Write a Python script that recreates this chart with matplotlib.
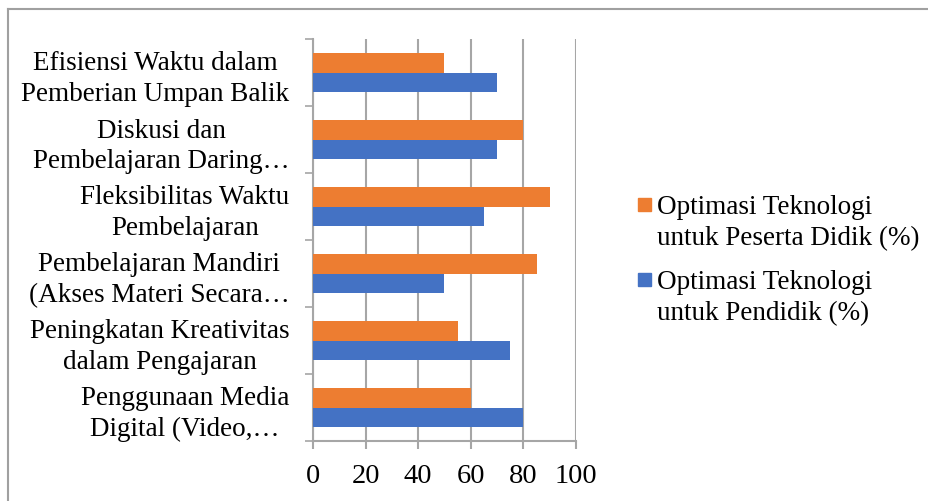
import matplotlib
matplotlib.use("Agg")
import matplotlib.pyplot as plt
from matplotlib.patches import Rectangle
import numpy as np

categories = [
    "Penggunaan Media\nDigital (Video,…",
    "Peningkatan Kreativitas\ndalam Pengajaran",
    "Pembelajaran Mandiri\n(Akses Materi Secara…",
    "Fleksibilitas Waktu\nPembelajaran",
    "Diskusi dan\nPembelajaran Daring…",
    "Efisiensi Waktu dalam\nPemberian Umpan Balik",
]
pendidik = [80, 75, 50, 65, 70, 70]
peserta = [60, 55, 85, 90, 80, 50]
series_names = [
    "Optimasi Teknologi\nuntuk Peserta Didik (%)",
    "Optimasi Teknologi\nuntuk Pendidik (%)",
]
xticks = [0, 20, 40, 60, 80, 100]

ORANGE = "#ED7D31"
BLUE = "#4472C4"
GRID = "#A6A6A6"
FS = 19.5
LS = 1.3

plt.rcParams["font.family"] = ["Liberation Serif", "DejaVu Serif"]
W, H = 929, 502
fig = plt.figure(figsize=(W / 100, H / 100), dpi=100)

def fx(px):
    return px / W

def fy(py):
    return 1 - py / H

ax = fig.add_axes([fx(313), fy(442), fx(576) - fx(313), fy(40) - fy(442)])

y = np.arange(len(categories))
h = 0.284
ax.barh(y + 0.142, peserta, height=h, color=ORANGE, zorder=3)
ax.barh(y - 0.142, pendidik, height=h, color=BLUE, zorder=3)

ax.set_xlim(0, 100)
ax.set_ylim(-0.5, len(categories) - 0.5)
ax.set_xticks(xticks)
ax.set_xticklabels([str(v) for v in xticks], fontsize=20.5)
ax.set_yticks(y)
ax.set_yticklabels(categories, fontsize=FS, ha="right", multialignment="center",
                   linespacing=LS)
ax.set_yticks(np.arange(-0.5, len(categories), 1.0), minor=True)

ax.grid(axis="x", color=GRID, linewidth=1.5, zorder=0)
for s in ["top", "right"]:
    ax.spines[s].set_visible(False)
for s in ["left", "bottom"]:
    ax.spines[s].set_color(GRID)
    ax.spines[s].set_linewidth(1.5)

ax.tick_params(axis="y", which="major", length=0, pad=17)
ax.tick_params(axis="y", which="minor", length=6, width=1.2, color=GRID, direction="out")
ax.tick_params(axis="x", which="major", length=6, width=1.5, color=GRID, direction="out", pad=10)

# outer chart border (top and left visible)
fig.add_artist(plt.Line2D([fx(8), 1], [fy(10), fy(10)], color="#A0A0A0", linewidth=1.5,
                          transform=fig.transFigure))
fig.add_artist(plt.Line2D([fx(8), fx(8)], [fy(10), 0], color="#A0A0A0", linewidth=1.5,
                          transform=fig.transFigure))

# legend
leg_colors = [ORANGE, BLUE]
leg_top = [199, 274]
for name, col, top in zip(series_names, leg_colors, leg_top):
    fig.add_artist(Rectangle((fx(638), fy(top + 13)), fx(651) - fx(638), fy(top) - fy(top + 13),
                             color=col, transform=fig.transFigure))
    fig.text(fx(657), fy(top - 4), name, fontsize=FS, ha="left", va="top",
             linespacing=LS)

fig.savefig("out.png", dpi=100)
